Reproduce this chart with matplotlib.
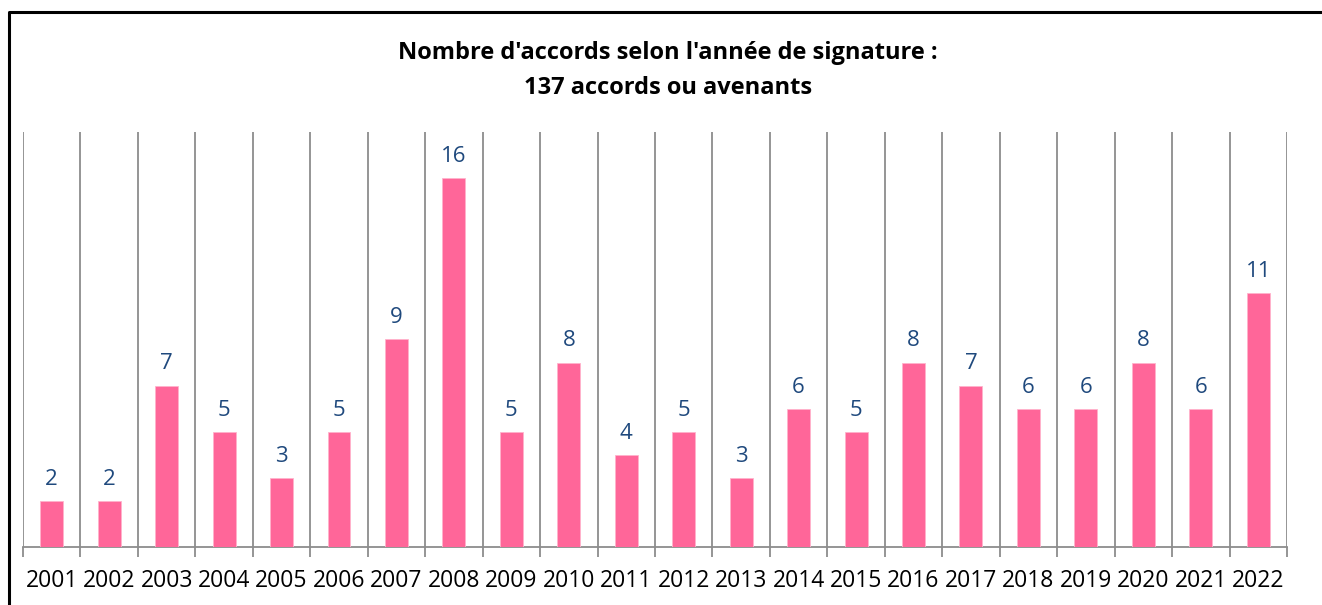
import matplotlib
matplotlib.use("Agg")
import matplotlib.pyplot as plt
from matplotlib.lines import Line2D
import numpy as np

# data
annees = [str(a) for a in range(2001, 2023)]
nb_accords = [2, 2, 7, 5, 3, 5, 9, 16, 5, 8, 4, 5, 3, 6, 5, 8, 7, 6, 6, 8, 6, 11]

titre = "Nombre d'accords selon l'année de signature :\n137 accords ou avenants"

plt.rcParams['font.family'] = ['Open Sans', 'DejaVu Sans']

fig = plt.figure(figsize=(13.22, 6.05), dpi=100)
ax = fig.add_axes([0.0174, 0.0959, 0.9561, 0.6859])

x = np.arange(len(annees))
bars = ax.bar(x, nb_accords, width=0.4, color='#FF6699', edgecolor='#FFB3CC',
              linewidth=0.6, zorder=3)

# value labels
for bar, v in zip(bars, nb_accords):
    ax.annotate(str(v), (bar.get_x() + bar.get_width() / 2, bar.get_height()),
                textcoords="offset points", xytext=(0, 8),
                ha='center', va='bottom', fontsize=16, color='#1F497D')

ax.set_xlim(-0.5, len(annees) - 0.5)
ax.set_ylim(0, 18)
ax.set_yticks([])

# vertical separators between categories
for b in np.arange(-0.5, len(annees), 1.0):
    ax.axvline(b, color='#8C8C8C', linewidth=1.3, zorder=1)

ax.set_xticks(np.arange(-0.5, len(annees), 1.0))
ax.set_xticklabels([])
ax.set_xticks(x, minor=True)
ax.set_xticklabels(annees, minor=True, fontsize=16.5)
ax.tick_params(axis='x', which='major', length=7, width=1.3, color='#8C8C8C')
ax.tick_params(axis='x', which='minor', length=0, pad=16)

for s in ['top', 'left', 'right']:
    ax.spines[s].set_visible(False)
ax.spines['bottom'].set_color('#8C8C8C')
ax.spines['bottom'].set_linewidth(1.3)

fig.text(0.505, 0.884, titre, ha='center', va='center', fontsize=17,
         fontweight='bold', linespacing=1.6)

# chart frame (top and left visible)
bx = 8.5 / 1322
by = 1 - 11.5 / 605
fig.add_artist(Line2D([bx, bx, 1.0], [0.0, by, by], transform=fig.transFigure,
                      color='black', linewidth=2.2))

fig.savefig('out.png', dpi=100)
